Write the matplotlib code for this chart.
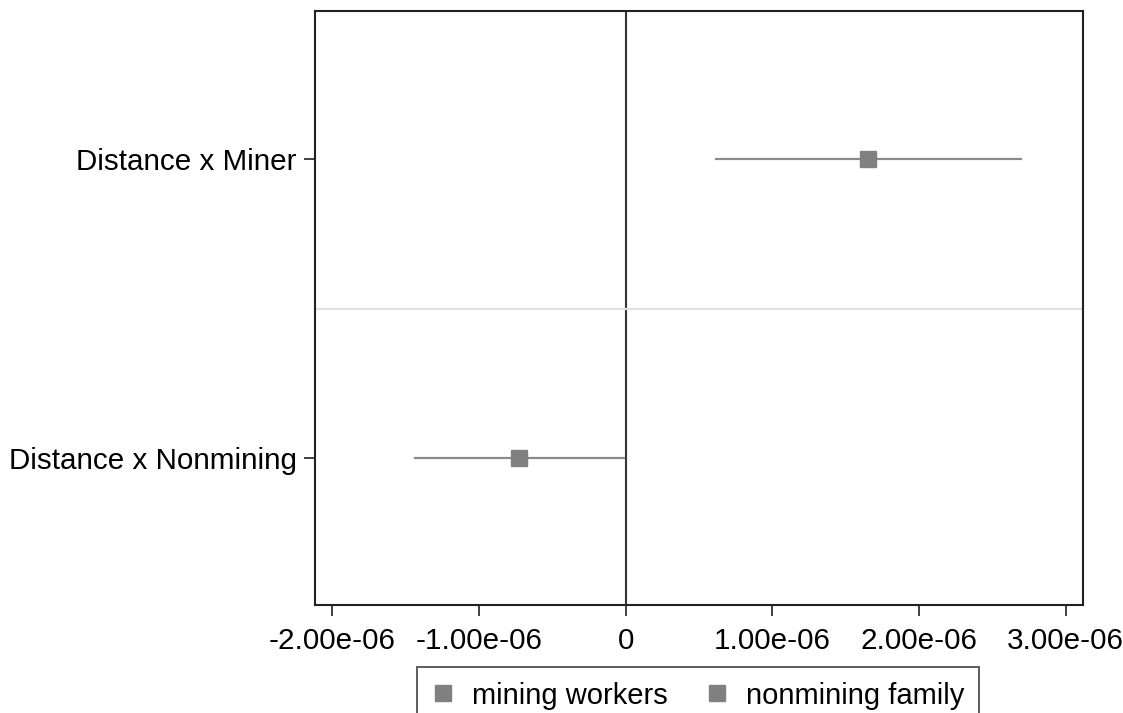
import numpy as np
import matplotlib.pyplot as plt
from matplotlib.ticker import FuncFormatter

plt.rcParams['font.family'] = ['Liberation Sans', 'DejaVu Sans']

# coefficient estimates and 95% CI
labels = ["Distance x Miner", "Distance x Nonmining"]
series = ["mining workers", "nonmining family"]
coef = [1.654e-6, -0.725e-6]
ci_lo = [0.614e-6, -1.436e-6]
ci_hi = [2.693e-6, -0.009e-6]
xticks = [-2e-6, -1e-6, 0, 1e-6, 2e-6, 3e-6]

fig = plt.figure(figsize=(11.23, 7.13), dpi=100)
ax = fig.add_axes([315 / 1123, 1 - 605 / 713, (1083 - 315) / 1123, (605 - 11) / 713])

grey = '#808080'
ypos = np.arange(1, len(labels) + 1)
for i in range(len(labels)):
    ax.plot([ci_lo[i], ci_hi[i]], [ypos[i], ypos[i]], color='#8a8a8a', lw=1.6, zorder=2)
    ax.plot(coef[i], ypos[i], marker='s', ms=11, color=grey, mec=grey,
            linestyle='none', label=series[i], zorder=3)

ax.axvline(0, color='#333333', lw=1.5, zorder=1)
ax.axhline(1.5, color='#e0e0e0', lw=1.6, zorder=1)

ax.set_xlim(-2.117e-6, 3.118e-6)
ax.set_ylim(2.49, 0.505)
ax.set_yticks(ypos)
ax.set_yticklabels(labels)
ax.set_xticks(xticks)
ax.xaxis.set_major_formatter(FuncFormatter(lambda v, p: '0' if v == 0 else f'{v:.2e}'))

ax.tick_params(axis='both', labelsize=21.3, length=8, width=1.3, color='#333333', direction='out')
ax.tick_params(axis='x', pad=8)
ax.tick_params(axis='y', pad=5)
for s in ax.spines.values():
    s.set_linewidth(1.5)
    s.set_color('#222222')

leg = fig.legend(loc='upper center', bbox_to_anchor=(698 / 1123, 1 - 667 / 713), ncol=2,
                 fontsize=21, frameon=True, fancybox=False, handlelength=0.8,
                 handletextpad=0.6, columnspacing=1.3, borderpad=0.5, borderaxespad=0)
leg.get_frame().set_edgecolor('#222222')
leg.get_frame().set_linewidth(1.3)

fig.savefig('out.png', dpi=100)
